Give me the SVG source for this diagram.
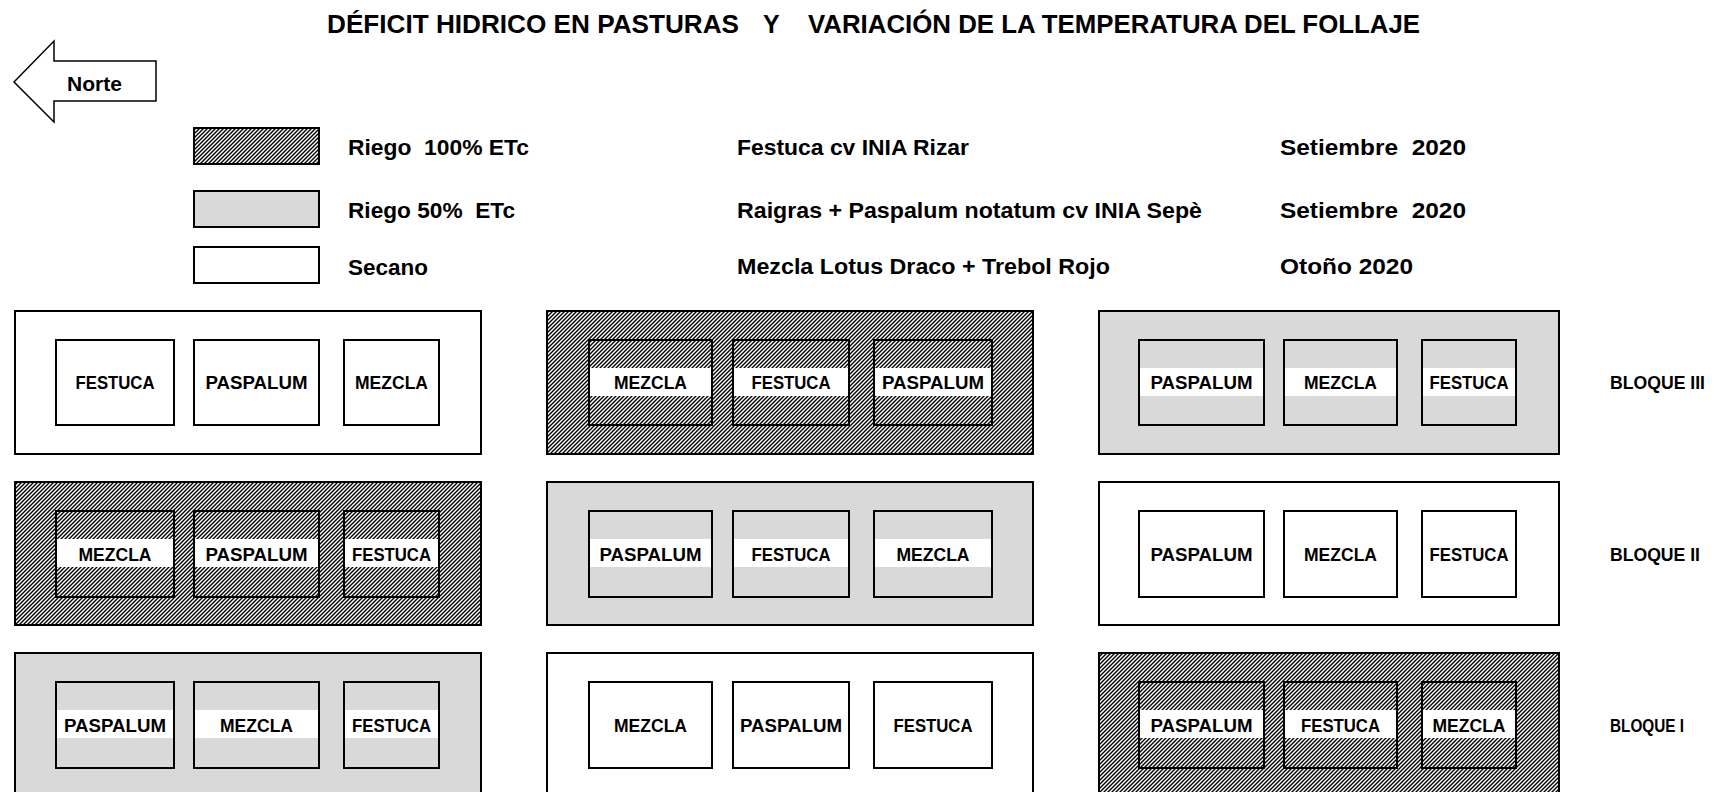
<svg xmlns="http://www.w3.org/2000/svg" width="1719" height="792" viewBox="0 0 1719 792">
<style>
text{font-family:'Liberation Sans',Arial,sans-serif;font-weight:bold;fill:#000}
.title{font-size:25px}
.leg{font-size:22px}
.lbl{font-size:18px;text-anchor:middle}
.blq{font-size:18px}
.blk{stroke:#000;stroke-width:2}
.plot{fill:none;stroke:#000;stroke-width:2}
.band{fill:#fff}
.w{fill:#fff}
.g{fill:#d9d9d9}
.h{fill:url(#hatch)}
</style>
<defs>
<pattern id="hatch" width="4" height="4" patternUnits="userSpaceOnUse">
<rect width="4" height="4" fill="#fff"/>
<path d="M-1,1 L1,-1 M0,4 L4,0 M3,5 L5,3" stroke="#000" stroke-width="1.4"/>
</pattern>
</defs>
<rect width="1719" height="792" fill="#fff"/>

<g id="title">
<text class="title" x="327" y="33" textLength="412" lengthAdjust="spacingAndGlyphs">DÉFICIT HIDRICO EN PASTURAS</text>
<text class="title" x="763" y="33">Y</text>
<text class="title" x="808" y="33" textLength="612" lengthAdjust="spacingAndGlyphs">VARIACIÓN DE LA TEMPERATURA DEL FOLLAJE</text>
</g>

<g id="norte">
<polygon points="14,82 54,41 54,61 156,61 156,101 54,101 54,122" fill="#fff" stroke="#000" stroke-width="1.5"/>
<text x="67" y="91" font-size="20" textLength="55" lengthAdjust="spacingAndGlyphs">Norte</text>
</g>

<g id="legend">
<rect class="blk h" x="194" y="128" width="125" height="36"/>
<rect class="blk g" x="194" y="191" width="125" height="36"/>
<rect class="blk w" x="194" y="247" width="125" height="36"/>
<text class="leg" x="348" y="155" xml:space="preserve" textLength="181" lengthAdjust="spacingAndGlyphs">Riego  100% ETc</text>
<text class="leg" x="348" y="218" xml:space="preserve" textLength="167" lengthAdjust="spacingAndGlyphs">Riego 50%  ETc</text>
<text class="leg" x="348" y="275" textLength="80" lengthAdjust="spacingAndGlyphs">Secano</text>
<text class="leg" x="737" y="155" textLength="232" lengthAdjust="spacingAndGlyphs">Festuca cv INIA Rizar</text>
<text class="leg" x="737" y="218" textLength="465" lengthAdjust="spacingAndGlyphs">Raigras + Paspalum notatum cv INIA Sepè</text>
<text class="leg" x="737" y="274" textLength="373" lengthAdjust="spacingAndGlyphs">Mezcla Lotus Draco + Trebol Rojo</text>
<text class="leg" x="1280" y="155" xml:space="preserve" textLength="186" lengthAdjust="spacingAndGlyphs">Setiembre  2020</text>
<text class="leg" x="1280" y="218" xml:space="preserve" textLength="186" lengthAdjust="spacingAndGlyphs">Setiembre  2020</text>
<text class="leg" x="1280" y="274" textLength="133" lengthAdjust="spacingAndGlyphs">Otoño 2020</text>
</g>

<g id="connectors"/>

<!-- BLOQUE III -->
<g id="b3-left">
<rect class="blk w" x="15" y="311" width="466" height="143"/>
<rect class="plot" x="56" y="340" width="118" height="85"/><text class="lbl" x="115" y="389" textLength="79" lengthAdjust="spacingAndGlyphs">FESTUCA</text>
<rect class="plot" x="194" y="340" width="125" height="85"/><text class="lbl" x="256.5" y="389" textLength="102" lengthAdjust="spacingAndGlyphs">PASPALUM</text>
<rect class="plot" x="344" y="340" width="95" height="85"/><text class="lbl" x="391.5" y="389" textLength="73" lengthAdjust="spacingAndGlyphs">MEZCLA</text>
</g>
<g id="b3-mid">
<rect class="blk h" x="547" y="311" width="486" height="143"/>
<rect class="band" x="590" y="368" width="121" height="28"/><rect class="plot" x="589" y="340" width="123" height="85"/><text class="lbl" x="650.5" y="389" textLength="73" lengthAdjust="spacingAndGlyphs">MEZCLA</text>
<rect class="band" x="734" y="368" width="114" height="28"/><rect class="plot" x="733" y="340" width="116" height="85"/><text class="lbl" x="791" y="389" textLength="79" lengthAdjust="spacingAndGlyphs">FESTUCA</text>
<rect class="band" x="875" y="368" width="116" height="28"/><rect class="plot" x="874" y="340" width="118" height="85"/><text class="lbl" x="933" y="389" textLength="102" lengthAdjust="spacingAndGlyphs">PASPALUM</text>
</g>
<g id="b3-right">
<rect class="blk g" x="1099" y="311" width="460" height="143"/>
<rect class="band" x="1140" y="368" width="123" height="28"/><rect class="plot" x="1139" y="340" width="125" height="85"/><text class="lbl" x="1201.5" y="389" textLength="102" lengthAdjust="spacingAndGlyphs">PASPALUM</text>
<rect class="band" x="1285" y="368" width="111" height="28"/><rect class="plot" x="1284" y="340" width="113" height="85"/><text class="lbl" x="1340.5" y="389" textLength="73" lengthAdjust="spacingAndGlyphs">MEZCLA</text>
<rect class="band" x="1423" y="368" width="92" height="28"/><rect class="plot" x="1422" y="340" width="94" height="85"/><text class="lbl" x="1469" y="389" textLength="79" lengthAdjust="spacingAndGlyphs">FESTUCA</text>
</g>
<g id="bloque-iii"><text class="blq" x="1610" y="389" textLength="95" lengthAdjust="spacingAndGlyphs">BLOQUE III</text></g>

<!-- BLOQUE II -->
<g id="b2-left">
<rect class="blk h" x="15" y="482" width="466" height="143"/>
<rect class="band" x="57" y="539" width="116" height="28"/><rect class="plot" x="56" y="511" width="118" height="86"/><text class="lbl" x="115" y="561" textLength="73" lengthAdjust="spacingAndGlyphs">MEZCLA</text>
<rect class="band" x="195" y="539" width="123" height="28"/><rect class="plot" x="194" y="511" width="125" height="86"/><text class="lbl" x="256.5" y="561" textLength="102" lengthAdjust="spacingAndGlyphs">PASPALUM</text>
<rect class="band" x="345" y="539" width="93" height="28"/><rect class="plot" x="344" y="511" width="95" height="86"/><text class="lbl" x="391.5" y="561" textLength="79" lengthAdjust="spacingAndGlyphs">FESTUCA</text>
</g>
<g id="b2-mid">
<rect class="blk g" x="547" y="482" width="486" height="143"/>
<rect class="band" x="590" y="539" width="121" height="28"/><rect class="plot" x="589" y="511" width="123" height="86"/><text class="lbl" x="650.5" y="561" textLength="102" lengthAdjust="spacingAndGlyphs">PASPALUM</text>
<rect class="band" x="734" y="539" width="114" height="28"/><rect class="plot" x="733" y="511" width="116" height="86"/><text class="lbl" x="791" y="561" textLength="79" lengthAdjust="spacingAndGlyphs">FESTUCA</text>
<rect class="band" x="875" y="539" width="116" height="28"/><rect class="plot" x="874" y="511" width="118" height="86"/><text class="lbl" x="933" y="561" textLength="73" lengthAdjust="spacingAndGlyphs">MEZCLA</text>
</g>
<g id="b2-right">
<rect class="blk w" x="1099" y="482" width="460" height="143"/>
<rect class="plot" x="1139" y="511" width="125" height="86"/><text class="lbl" x="1201.5" y="561" textLength="102" lengthAdjust="spacingAndGlyphs">PASPALUM</text>
<rect class="plot" x="1284" y="511" width="113" height="86"/><text class="lbl" x="1340.5" y="561" textLength="73" lengthAdjust="spacingAndGlyphs">MEZCLA</text>
<rect class="plot" x="1422" y="511" width="94" height="86"/><text class="lbl" x="1469" y="561" textLength="79" lengthAdjust="spacingAndGlyphs">FESTUCA</text>
</g>
<g id="bloque-ii"><text class="blq" x="1610" y="561" textLength="90" lengthAdjust="spacingAndGlyphs">BLOQUE II</text></g>

<!-- BLOQUE I -->
<g id="b1-left">
<rect class="blk g" x="15" y="653" width="466" height="150"/>
<rect class="band" x="57" y="710" width="116" height="28"/><rect class="plot" x="56" y="682" width="118" height="86"/><text class="lbl" x="115" y="732" textLength="102" lengthAdjust="spacingAndGlyphs">PASPALUM</text>
<rect class="band" x="195" y="710" width="123" height="28"/><rect class="plot" x="194" y="682" width="125" height="86"/><text class="lbl" x="256.5" y="732" textLength="73" lengthAdjust="spacingAndGlyphs">MEZCLA</text>
<rect class="band" x="345" y="710" width="93" height="28"/><rect class="plot" x="344" y="682" width="95" height="86"/><text class="lbl" x="391.5" y="732" textLength="79" lengthAdjust="spacingAndGlyphs">FESTUCA</text>
</g>
<g id="b1-mid">
<rect class="blk w" x="547" y="653" width="486" height="150"/>
<rect class="plot" x="589" y="682" width="123" height="86"/><text class="lbl" x="650.5" y="732" textLength="73" lengthAdjust="spacingAndGlyphs">MEZCLA</text>
<rect class="plot" x="733" y="682" width="116" height="86"/><text class="lbl" x="791" y="732" textLength="102" lengthAdjust="spacingAndGlyphs">PASPALUM</text>
<rect class="plot" x="874" y="682" width="118" height="86"/><text class="lbl" x="933" y="732" textLength="79" lengthAdjust="spacingAndGlyphs">FESTUCA</text>
</g>
<g id="b1-right">
<rect class="blk h" x="1099" y="653" width="460" height="150"/>
<rect class="band" x="1140" y="710" width="123" height="28"/><rect class="plot" x="1139" y="682" width="125" height="86"/><text class="lbl" x="1201.5" y="732" textLength="102" lengthAdjust="spacingAndGlyphs">PASPALUM</text>
<rect class="band" x="1285" y="710" width="111" height="28"/><rect class="plot" x="1284" y="682" width="113" height="86"/><text class="lbl" x="1340.5" y="732" textLength="79" lengthAdjust="spacingAndGlyphs">FESTUCA</text>
<rect class="band" x="1423" y="710" width="92" height="28"/><rect class="plot" x="1422" y="682" width="94" height="86"/><text class="lbl" x="1469" y="732" textLength="73" lengthAdjust="spacingAndGlyphs">MEZCLA</text>
</g>
<g id="bloque-i"><text class="blq" x="1610" y="732" textLength="74" lengthAdjust="spacingAndGlyphs">BLOQUE I</text></g>
</svg>
